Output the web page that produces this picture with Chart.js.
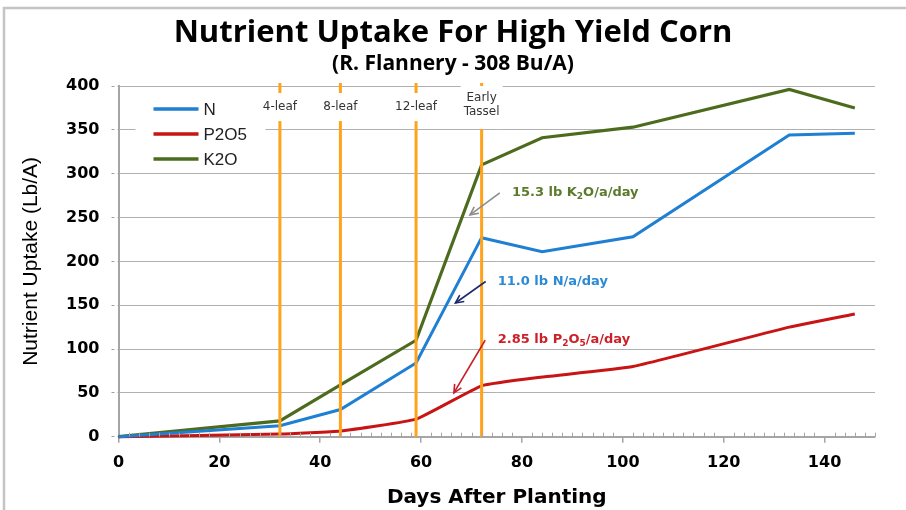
<!DOCTYPE html>
<html><head><meta charset="utf-8">
<script src="https://cdn.jsdelivr.net/npm/chart.js@4.4.0/dist/chart.umd.min.js"></script>
<style>html,body{margin:0;padding:0;background:#fff;}canvas{display:block;}</style>
</head><body>
<canvas id="c" width="906" height="510"></canvas>
<script>
// ---- data ----
const days = [0, 32, 44, 59, 72, 84, 102, 133, 146];
const nUptake = [0, 12.5, 31, 84, 227, 211, 228, 344, 346];
const p2o5Uptake = [0, 3, 6.5, 20, 58, 68, 80, 125, 140];
const k2oUptake = [0, 18, 59, 110, 310, 341, 353, 396, 375];
const seriesLabels = ['N', 'P2O5', 'K2O'];
const stageDays = [32, 44, 59, 72];
const stageLabels = [['4-leaf'], ['8-leaf'], ['12-leaf'], ['Early', 'Tassel']];
const xTickValues = [0, 20, 40, 60, 80, 100, 120, 140];
const yTickValues = [0, 50, 100, 150, 200, 250, 300, 350, 400];

// ---- styles ----
const colors = { N: '#1f7fd2', P2O5: '#c81414', K2O: '#4d6b1f' };
const ORANGE = '#ffa31a';

// rate notes: anchored in data units (day, lb/A)
const rateNotes = [
  { parts: [['15.3 lb K', 0], ['2', 1], ['O/a/day', 0]], at: [78, 278], from: [75.6, 278], to: [69.7, 253], color: '#5b7a2c', arrow: '#8c8c8c' },
  { parts: [['11.0 lb N/a/day', 0]], at: [75.2, 177], from: [72.8, 177], to: [66.8, 152.5], color: '#2b8ad3', arrow: '#1e2a6e' },
  { parts: [['2.85 lb P', 0], ['2', 1], ['O', 0], ['5', 1], ['/a/day', 0]], at: [75.2, 111], from: [72.7, 110], to: [66.5, 50], color: '#cc1f28', arrow: '#c81e28' }
];

const toXY = (vals) => days.map((d, i) => ({ x: d, y: vals[i] }));

const legendPlugin = {
  id: 'boxLegend',
  afterDatasetsDraw(chart) {
    const { ctx, chartArea: ca } = chart;
    ctx.save();
    ctx.fillStyle = '#fff';
    ctx.fillRect(ca.left + 17, ca.top + 8, 130, 77);
    chart.data.datasets.forEach((ds, i) => {
      const yy = ca.top + 23 + i * 25;
      ctx.strokeStyle = ds.borderColor;
      ctx.lineWidth = 3.5;
      ctx.beginPath(); ctx.moveTo(ca.left + 35, yy); ctx.lineTo(ca.left + 80, yy); ctx.stroke();
      ctx.fillStyle = '#222';
      ctx.font = '17px "Liberation Sans"';
      ctx.textAlign = 'left'; ctx.textBaseline = 'middle';
      ctx.fillText(ds.label, ca.left + 85, yy + 1);
    });
    ctx.restore();
  }
};

const stagePlugin = {
  id: 'stages',
  afterDatasetsDraw(chart) {
    const { ctx, chartArea, scales: { x, y } } = chart;
    ctx.save();
    stageDays.forEach((d, i) => {
      const px = x.getPixelForValue(d);
      ctx.strokeStyle = ORANGE;
      ctx.lineWidth = 3;
      ctx.beginPath();
      ctx.moveTo(px, chartArea.top - 3);
      ctx.lineTo(px, chartArea.bottom);
      ctx.stroke();
      const lines = stageLabels[i];
      ctx.font = '12px "DejaVu Sans"';
      const w = Math.max(...lines.map(t => ctx.measureText(t).width)) + 6;
      let top, bot, ys;
      if (lines.length === 1) {
        top = y.getPixelForValue(392); bot = y.getPixelForValue(360);
        ys = [y.getPixelForValue(376)];
      } else {
        top = chartArea.top; bot = y.getPixelForValue(351);
        ys = [y.getPixelForValue(386), y.getPixelForValue(370)];
      }
      ctx.fillStyle = '#fff';
      ctx.fillRect(px - w / 2, top, w, bot - top);
      ctx.fillStyle = '#333';
      ctx.textAlign = 'center';
      ctx.textBaseline = 'middle';
      lines.forEach((t, k) => ctx.fillText(t, px, ys[k]));
    });
    ctx.restore();
  }
};

const notesPlugin = {
  id: 'notes',
  afterDatasetsDraw(chart) {
    const { ctx, scales: { x, y } } = chart;
    ctx.save();
    rateNotes.forEach(n => {
      const fx = x.getPixelForValue(n.from[0]), fy = y.getPixelForValue(n.from[1]);
      const tx = x.getPixelForValue(n.to[0]), ty = y.getPixelForValue(n.to[1]);
      ctx.strokeStyle = n.arrow;
      ctx.lineWidth = 1.6;
      ctx.beginPath(); ctx.moveTo(fx, fy); ctx.lineTo(tx, ty); ctx.stroke();
      const ang = Math.atan2(ty - fy, tx - fx);
      const L = 9, a = 0.45;
      ctx.beginPath();
      ctx.moveTo(tx - L * Math.cos(ang - a), ty - L * Math.sin(ang - a));
      ctx.lineTo(tx, ty);
      ctx.lineTo(tx - L * Math.cos(ang + a), ty - L * Math.sin(ang + a));
      ctx.stroke();
      let cx = x.getPixelForValue(n.at[0]);
      const cy = y.getPixelForValue(n.at[1]);
      ctx.fillStyle = n.color;
      ctx.textAlign = 'left';
      ctx.textBaseline = 'middle';
      n.parts.forEach(([t, sub]) => {
        ctx.font = sub ? 'bold 9px "DejaVu Sans"' : 'bold 13px "DejaVu Sans"';
        ctx.fillText(t, cx, sub ? cy + 4 : cy);
        cx += ctx.measureText(t).width;
      });
    });
    ctx.restore();
  }
};

const minorTickPlugin = {
  id: 'minorTicks',
  afterDraw(chart) {
    const { ctx, chartArea: ca, scales: { x } } = chart;
    ctx.save();
    ctx.strokeStyle = '#a5a5a5';
    ctx.lineWidth = 1;
    for (let v = 0; v <= x.max; v += 2) {
      if (v % 20 === 0) continue;
      const px = Math.round(x.getPixelForValue(v)) + 0.5;
      ctx.beginPath(); ctx.moveTo(px, ca.bottom - 4); ctx.lineTo(px, ca.bottom); ctx.stroke();
    }
    // outer frame (top & left)
    ctx.strokeStyle = '#c4c4c4';
    ctx.lineWidth = 2.5;
    ctx.beginPath(); ctx.moveTo(4, 510); ctx.lineTo(4, 8); ctx.lineTo(906, 8); ctx.stroke();
    ctx.restore();
  }
};

new Chart(document.getElementById('c'), {
  type: 'line',
  data: {
    datasets: [
      { label: seriesLabels[0], data: toXY(nUptake), borderColor: colors.N, borderWidth: 3, pointRadius: 0, tension: 0, clip: false },
      { label: seriesLabels[1], data: toXY(p2o5Uptake), borderColor: colors.P2O5, borderWidth: 3, pointRadius: 0, tension: 0.12, clip: false },
      { label: seriesLabels[2], data: toXY(k2oUptake), borderColor: colors.K2O, borderWidth: 3.2, pointRadius: 0, tension: 0, clip: false }
    ]
  },
  options: {
    responsive: false,
    animation: false,
    devicePixelRatio: 1,
    layout: { padding: { left: 31, right: 31, top: 0, bottom: 0 } },
    plugins: {
      legend: { display: false },
      tooltip: { enabled: false },
      title: { display: true, text: 'Nutrient Uptake For High Yield Corn', color: '#000',
        font: { family: 'Open Sans', size: 31, weight: 'bold', lineHeight: 1 }, padding: { top: 18, bottom: 0 } },
      subtitle: { display: true, text: '(R. Flannery - 308 Bu/A)', color: '#000',
        font: { family: 'Open Sans', size: 21, weight: 'bold', lineHeight: 1 }, padding: { top: 5, bottom: 11 } }
    },
    scales: {
      x: {
        type: 'linear', min: 0, max: 150,
        afterBuildTicks: s => { s.ticks = xTickValues.map(v => ({ value: v })); },
        afterFit: s => { s.height = 73.3; },
        ticks: { color: '#000', font: { family: 'DejaVu Sans', size: 16, weight: 'bold' }, padding: 11, maxRotation: 0 },
        grid: { display: true, drawOnChartArea: false, drawTicks: true, tickLength: 6, color: '#a5a5a5', lineWidth: 1.5 },
        border: { display: true, color: '#a5a5a5', width: 2 },
        title: { display: true, text: 'Days After Planting', color: '#000',
          font: { family: 'DejaVu Sans', size: 20, weight: 'bold' }, padding: { top: 0, bottom: 0 } }
      },
      y: {
        type: 'linear', min: 0, max: 400,
        afterBuildTicks: s => { s.ticks = yTickValues.map(v => ({ value: v })); },
        afterFit: s => { s.width = 87.5; },
        ticks: { color: '#000', font: { family: 'DejaVu Sans', size: 16, weight: 'bold' }, padding: 12 },
        grid: { color: '#b0b0b0', lineWidth: 1, borderDash: [3, 3], tickLength: 7, tickBorderDash: [3, 3], tickColor: '#a0a0a0' },
        border: { display: true, color: '#a5a5a5', width: 2 },
        title: { display: true, text: 'Nutrient Uptake (Lb/A)', color: '#000',
          font: { family: 'Liberation Sans', size: 21, lineHeight: 1 }, padding: { top: -10, bottom: 0 } }
      }
    }
  },
  plugins: [legendPlugin, stagePlugin, notesPlugin, minorTickPlugin]
});
</script>
</body></html>
